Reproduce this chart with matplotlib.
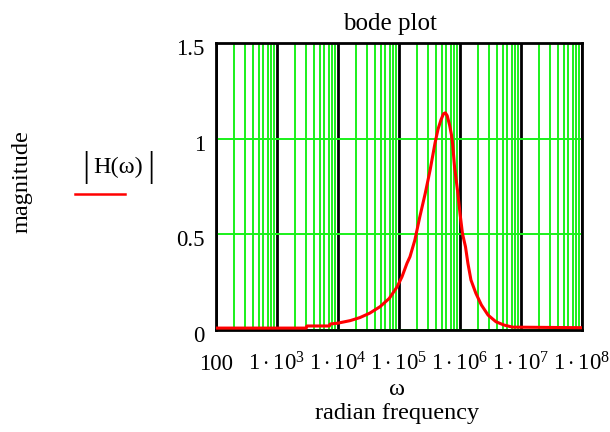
import matplotlib as mpl
mpl.use('Agg')
import matplotlib.pyplot as plt
from matplotlib.lines import Line2D
from matplotlib.transforms import ScaledTranslation

# values (log10 of radian frequency, |H|)
log_w = [2.0, 3.48, 3.49, 3.86, 3.87, 4.0, 4.2, 4.36, 4.52, 4.69, 4.84, 4.97,
         5.05, 5.13, 5.18, 5.26, 5.34, 5.43, 5.51, 5.59, 5.64, 5.69, 5.73,
         5.76, 5.79, 5.83, 5.86, 5.88, 5.91, 5.965, 6.0, 6.04, 6.09, 6.13,
         6.18, 6.26, 6.35, 6.46, 6.59, 6.72, 6.86, 8.0]
mag = [0.01, 0.01, 0.021, 0.021, 0.031, 0.036, 0.049, 0.065, 0.088, 0.122,
       0.165, 0.226, 0.279, 0.348, 0.383, 0.47, 0.59, 0.714, 0.836, 0.976,
       1.05, 1.10, 1.13, 1.135, 1.12, 1.07, 1.02, 0.97, 0.854, 0.714, 0.61,
       0.505, 0.435, 0.348, 0.261, 0.192, 0.131, 0.078, 0.043, 0.026, 0.015,
       0.012]

xticks = [1e2, 1e3, 1e4, 1e5, 1e6, 1e7, 1e8]
xticklabels = ['100', r'$1\cdot10^{3}$', r'$1\cdot10^{4}$', r'$1\cdot10^{5}$',
               r'$1\cdot10^{6}$', r'$1\cdot10^{7}$', r'$1\cdot10^{8}$']
yticks = [0, 0.5, 1, 1.5]
yticklabels = ['0', '0.5', '1', '1.5']

plt.rcParams['font.family'] = ['Liberation Serif', 'DejaVu Serif']
plt.rcParams['mathtext.fontset'] = 'custom'
plt.rcParams['mathtext.rm'] = 'Liberation Serif'
plt.rcParams['mathtext.it'] = 'Liberation Serif'
plt.rcParams['mathtext.bf'] = 'Liberation Serif:bold'

green = '#1af01a'
fs_tick = 16.5
fs_lab = 17.5

fig = plt.figure(figsize=(6.1, 4.32), dpi=100)
ax = fig.add_axes([216/610, 102/432, 366/610, 287/432])

w = [10**v for v in log_w]
ax.plot(w, mag, color='red', lw=2.2, zorder=5)

ax.set_xscale('log')
ax.set_xlim(1e2, 1e8)
ax.set_ylim(0, 1.5)

ax.set_xticks(xticks)
ax.set_xticklabels(xticklabels, fontsize=fs_tick)
ax.set_xticks([m * 10**d for d in range(2, 8) for m in range(2, 10)], minor=True)
ax.set_yticks(yticks)
ax.set_yticklabels(yticklabels, fontsize=fs_tick)
ax.tick_params(axis='x', which='both', length=0, pad=29)
ax.tick_params(axis='y', which='both', length=0, pad=8)
for lab in ax.get_xticklabels():
    lab.set_va('baseline')
# mathcad puts the y labels a little below their grid lines
shift = ScaledTranslation(0, -4/100, fig.dpi_scale_trans)
for lab in ax.get_yticklabels():
    lab.set_transform(lab.get_transform() + shift)

ax.set_axisbelow(True)
ax.grid(which='minor', axis='x', color=green, lw=1.4)
ax.grid(which='major', axis='x', color='black', lw=2)
ax.grid(which='major', axis='y', color=green, lw=1.4)
for s in ax.spines.values():
    s.set_linewidth(2)
    s.set_color('black')

fig.text(390/610, (432-30)/432, 'bode plot', ha='center', va='baseline', fontsize=18)
fig.text(397/610, (432-395)/432, 'ω', ha='center', va='baseline', fontsize=fs_lab)
fig.text(397/610, (432-419)/432, 'radian frequency', ha='center', va='baseline', fontsize=fs_lab)
fig.text(22/610, (432-182)/432, 'magnitude', ha='center', va='center', rotation=90, fontsize=fs_lab)

# legend entry drawn like the original: |H(ω)| over a red sample line
fig.text(118/610, (432-167)/432, 'H(ω)', ha='center', va='center', fontsize=fs_lab)
fig.text(86/610, (432-167)/432, '|', ha='center', va='center', fontsize=26)
fig.text(151/610, (432-167)/432, '|', ha='center', va='center', fontsize=26)
fig.add_artist(Line2D([75/610, 125/610], [(432-194)/432]*2, color='red', lw=1.8,
                      transform=fig.transFigure))

fig.savefig('out.png', dpi=100)
